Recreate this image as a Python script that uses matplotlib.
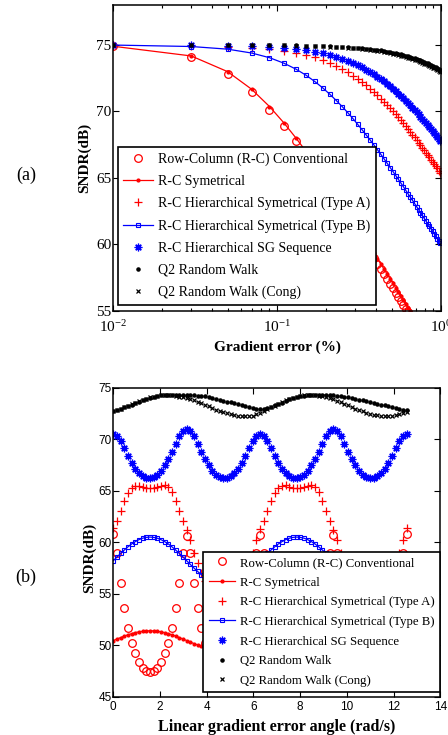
import numpy as np
import matplotlib
matplotlib.use('Agg')
import matplotlib.pyplot as plt

plt.rcParams['font.family'] = ['Liberation Serif', 'DejaVu Serif']

labels = ['Row-Column (R-C) Conventional', 'R-C Symetrical',
          'R-C Hierarchical Symetrical (Type A)', 'R-C Hierarchical Symetrical (Type B)',
          'R-C Hierarchical SG Sequence', 'Q2 Random Walk', 'Q2 Random Walk (Cong)']

# ---- panel (a): SNDR vs gradient error (%), x = 0.01 ... 0.99 step 0.02
grad_err = np.arange(0.01, 1.0, 0.02)

conv_a = [74.89, 74.10, 72.85, 71.47, 70.12, 68.88, 67.74, 66.70, 65.76, 64.90,
          64.10, 63.37, 62.70, 62.06, 61.47, 60.92, 60.39, 59.90, 59.43, 58.99,
          58.56, 58.16, 57.77, 57.40, 57.04, 56.70, 56.37, 56.05, 55.75, 55.45,
          55.17, 54.89, 54.62, 54.36, 54.11, 53.86, 53.62, 53.39, 53.16, 52.94,
          52.72, 52.51, 52.30, 52.10, 51.91, 51.72, 51.53, 51.35, 51.16, 50.99]
sym_a = [74.90, 74.17, 72.99, 71.67, 70.37, 69.15, 68.03, 67.01, 66.08, 65.23,
         64.45, 63.72, 63.04, 62.41, 61.83, 61.27, 60.75, 60.26, 59.79, 59.35,
         58.93, 58.52, 58.14, 57.76, 57.41, 57.07, 56.74, 56.42, 56.11, 55.82,
         55.53, 55.26, 54.99, 54.73, 54.47, 54.23, 53.99, 53.76, 53.53, 53.31,
         53.09, 52.88, 52.68, 52.47, 52.28, 52.09, 51.90, 51.71, 51.53, 51.36]
typea_a = [75.00, 74.93, 74.85, 74.75, 74.66, 74.55, 74.41, 74.25, 74.07, 73.86,
           73.65, 73.42, 73.19, 72.95, 72.70, 72.45, 72.20, 71.95, 71.70, 71.45,
           71.21, 70.96, 70.72, 70.48, 70.24, 70.00, 69.77, 69.55, 69.32, 69.10,
           68.88, 68.67, 68.46, 68.26, 68.05, 67.85, 67.66, 67.46, 67.28, 67.09,
           66.91, 66.73, 66.55, 66.38, 66.21, 66.04, 65.87, 65.71, 65.55, 65.39]
typeb_a = [74.99, 74.88, 74.68, 74.39, 74.04, 73.63, 73.19, 72.73, 72.25, 71.77,
           71.29, 70.82, 70.36, 69.91, 69.47, 69.04, 68.63, 68.23, 67.85, 67.48,
           67.12, 66.77, 66.43, 66.10, 65.78, 65.48, 65.18, 64.89, 64.61, 64.34,
           64.07, 63.81, 63.56, 63.32, 63.08, 62.85, 62.62, 62.40, 62.18, 61.97,
           61.76, 61.56, 61.36, 61.17, 60.98, 60.79, 60.61, 60.43, 60.26, 60.09]
sg_a = [75.00, 74.98, 74.95, 74.91, 74.85, 74.78, 74.69, 74.59, 74.48, 74.36,
        74.23, 74.10, 73.95, 73.80, 73.64, 73.48, 73.31, 73.14, 72.96, 72.79,
        72.61, 72.43, 72.25, 72.07, 71.88, 71.70, 71.52, 71.34, 71.16, 70.98,
        70.81, 70.63, 70.46, 70.28, 70.11, 69.95, 69.78, 69.61, 69.45, 69.29,
        69.13, 68.97, 68.81, 68.66, 68.51, 68.36, 68.21, 68.06, 67.91, 67.77]
q2_a = [75.00, 75.00, 74.99, 74.99, 74.98, 74.97, 74.96, 74.95, 74.93, 74.92,
        74.90, 74.88, 74.85, 74.83, 74.80, 74.78, 74.75, 74.72, 74.69, 74.65,
        74.62, 74.58, 74.54, 74.50, 74.46, 74.42, 74.38, 74.33, 74.29, 74.24,
        74.19, 74.14, 74.09, 74.04, 73.99, 73.94, 73.89, 73.83, 73.78, 73.72,
        73.67, 73.61, 73.55, 73.49, 73.43, 73.37, 73.31, 73.25, 73.19, 73.13]
cong_a = [75.00, 75.00, 74.99, 74.98, 74.97, 74.96, 74.95, 74.94, 74.92, 74.90,
          74.88, 74.86, 74.83, 74.80, 74.77, 74.74, 74.71, 74.68, 74.64, 74.60,
          74.56, 74.52, 74.48, 74.44, 74.39, 74.35, 74.30, 74.25, 74.20, 74.15,
          74.10, 74.05, 74.00, 73.94, 73.89, 73.83, 73.78, 73.72, 73.66, 73.60,
          73.54, 73.48, 73.42, 73.36, 73.30, 73.24, 73.18, 73.12, 73.06, 73.00]

# ---- panel (b): SNDR vs linear gradient error angle, 0 ... 4*pi
angle = np.linspace(0, 4 * np.pi, 81)

conv_b = [60.8, 59.0, 56.0, 53.6, 51.7, 50.2, 49.2, 48.4, 47.8, 47.5,
          47.4, 47.5, 47.8, 48.4, 49.2, 50.2, 51.7, 53.6, 56.0, 59.0,
          60.6, 59.0, 56.0, 53.6, 51.7, 50.2, 49.2, 48.4, 47.8, 47.5,
          47.4, 47.5, 47.8, 48.4, 49.2, 50.2, 51.7, 53.6, 56.0, 59.0,
          60.7, 59.0, 56.0, 53.6, 51.7, 50.2, 49.2, 48.4, 47.8, 47.5,
          47.4, 47.5, 47.8, 48.4, 49.2, 50.2, 51.7, 53.6, 56.0, 59.0,
          60.7, 59.0, 56.0, 53.6, 51.7, 50.2, 49.2, 48.4, 47.8, 47.5,
          47.4, 47.5, 47.8, 48.4, 49.2, 50.2, 51.7, 53.6, 56.0, 59.0,
          60.8]
sym_b = [50.45, 50.60, 50.74, 50.88, 51.01, 51.12, 51.22, 51.30, 51.35, 51.39,
         51.40, 51.39, 51.35, 51.30, 51.22, 51.12, 51.01, 50.88, 50.74, 50.60,
         50.45, 50.30, 50.16, 50.02, 49.89, 49.78, 49.68, 49.60, 49.55, 49.51,
         49.50, 49.51, 49.55, 49.60, 49.68, 49.78, 49.89, 50.02, 50.16, 50.30,
         50.45, 50.60, 50.74, 50.88, 51.01, 51.12, 51.22, 51.30, 51.35, 51.39,
         51.40, 51.39, 51.35, 51.30, 51.22, 51.12, 51.01, 50.88, 50.74, 50.60,
         50.45, 50.30, 50.16, 50.02, 49.89, 49.78, 49.68, 49.60, 49.55, 49.51,
         49.50, 49.51, 49.55, 49.60, 49.68, 49.78, 49.89, 50.02, 50.16, 50.30,
         50.45]
typea_b = [61.4, 62.1, 63.0, 64.0, 64.8, 65.3, 65.5, 65.5, 65.4, 65.3,
           65.3, 65.3, 65.4, 65.5, 65.6, 65.4, 64.9, 64.0, 63.0, 62.1,
           61.2, 60.2, 59.0, 58.0, 57.0, 56.2, 55.5, 55.0, 54.6, 54.4,
           54.3, 54.4, 54.6, 55.0, 55.5, 56.2, 57.0, 58.0, 59.0, 60.2,
           61.3, 62.1, 63.0, 64.0, 64.8, 65.3, 65.5, 65.6, 65.4, 65.3,
           65.3, 65.3, 65.4, 65.5, 65.6, 65.4, 64.9, 64.0, 63.0, 62.1,
           61.2, 60.2, 59.0, 58.0, 57.0, 56.2, 55.5, 55.0, 54.6, 54.4,
           54.3, 54.4, 54.6, 55.0, 55.5, 56.2, 57.0, 58.0, 59.0, 60.2,
           61.4]
typeb_b = [58.20, 58.56, 58.91, 59.24, 59.55, 59.83, 60.06, 60.25, 60.39, 60.47,
           60.50, 60.47, 60.39, 60.25, 60.06, 59.83, 59.55, 59.24, 58.91, 58.56,
           58.20, 57.84, 57.49, 57.16, 56.85, 56.57, 56.34, 56.15, 56.01, 55.93,
           55.90, 55.93, 56.01, 56.15, 56.34, 56.57, 56.85, 57.16, 57.49, 57.84,
           58.20, 58.56, 58.91, 59.24, 59.55, 59.83, 60.06, 60.25, 60.39, 60.47,
           60.50, 60.47, 60.39, 60.25, 60.06, 59.83, 59.55, 59.24, 58.91, 58.56,
           58.20, 57.84, 57.49, 57.16, 56.85, 56.57, 56.34, 56.15, 56.01, 55.93,
           55.90, 55.93, 56.01, 56.15, 56.34, 56.57, 56.85, 57.16, 57.49, 57.84,
           58.20]
sg_b = [70.50, 70.31, 69.80, 69.13, 68.40, 67.73, 67.15, 66.71, 66.40, 66.23,
        66.20, 66.31, 66.56, 66.93, 67.45, 68.09, 68.80, 69.57, 70.28, 70.81,
        71.00, 70.81, 70.28, 69.57, 68.80, 68.09, 67.45, 66.93, 66.56, 66.31,
        66.20, 66.23, 66.40, 66.71, 67.15, 67.73, 68.40, 69.13, 69.80, 70.31,
        70.55, 70.31, 69.80, 69.13, 68.40, 67.73, 67.15, 66.71, 66.40, 66.23,
        66.20, 66.31, 66.56, 66.93, 67.45, 68.09, 68.80, 69.57, 70.28, 70.81,
        71.00, 70.81, 70.28, 69.57, 68.80, 68.09, 67.45, 66.93, 66.56, 66.31,
        66.20, 66.23, 66.40, 66.71, 67.15, 67.73, 68.40, 69.13, 69.80, 70.31,
        70.50]
q2_b = [72.70, 72.82, 72.95, 73.08, 73.22, 73.36, 73.52, 73.66, 73.80, 73.92,
        74.03, 74.12, 74.20, 74.25, 74.28, 74.30, 74.31, 74.31, 74.30, 74.30,
        74.29, 74.27, 74.25, 74.22, 74.19, 74.15, 74.08, 74.00, 73.93, 73.84,
        73.75, 73.66, 73.57, 73.48, 73.39, 73.30, 73.20, 73.11, 73.02, 72.95,
        72.90, 72.92, 73.02, 73.15, 73.28, 73.42, 73.56, 73.72, 73.86, 73.98,
        74.08, 74.17, 74.23, 74.27, 74.30, 74.31, 74.31, 74.30, 74.29, 74.27,
        74.25, 74.22, 74.18, 74.13, 74.07, 74.00, 73.93, 73.85, 73.77, 73.69,
        73.61, 73.53, 73.45, 73.37, 73.28, 73.19, 73.10, 73.01, 72.93, 72.86,
        72.80]
cong_b = [72.70, 72.82, 72.95, 73.08, 73.23, 73.38, 73.53, 73.68, 73.82, 73.95,
          74.05, 74.13, 74.20, 74.25, 74.27, 74.27, 74.25, 74.20, 74.14, 74.07,
          73.98, 73.88, 73.76, 73.63, 73.48, 73.33, 73.18, 73.03, 72.88, 72.75,
          72.63, 72.52, 72.43, 72.35, 72.29, 72.25, 72.22, 72.24, 72.30, 72.40,
          72.55, 72.72, 72.90, 73.08, 73.27, 73.45, 73.62, 73.78, 73.92, 74.04,
          74.13, 74.20, 74.25, 74.28, 74.29, 74.27, 74.23, 74.17, 74.09, 73.99,
          73.87, 73.74, 73.59, 73.44, 73.28, 73.12, 72.97, 72.83, 72.70, 72.58,
          72.47, 72.38, 72.31, 72.26, 72.23, 72.22, 72.26, 72.33, 72.43, 72.55,
          72.68]

# marker styles in legend order (MATLAB look)
styles = [dict(marker='o', ls='none', mfc='none', mec='red', ms=5.5, mew=0.9),
          dict(marker='.', ls='-', color='red', ms=4, lw=0.9),
          dict(marker='+', ls='none', color='red', ms=6, mew=0.9),
          dict(marker='s', ls='-', color='blue', mfc='none', ms=3, lw=0.9, mew=0.8),
          dict(marker=(8, 2, 0), ls='none', color='blue', ms=5.5, mew=0.9),
          dict(marker='.', ls='none', color='black', ms=4.5),
          dict(marker='x', ls='none', color='black', ms=3, mew=0.9)]


def draw(ax, x, series):
    for y, st, lab in zip(series, styles, labels):
        ax.plot(x, y, label=lab, **st)


def frame(ax):
    for s in ax.spines.values():
        s.set_linewidth(1.1)
    ax.tick_params(which='both', direction='in', top=True, right=True, width=0.8)
    ax.tick_params(which='major', length=4)
    ax.tick_params(which='minor', length=2.5)


fig = plt.figure(figsize=(4.48, 7.35), dpi=100)

# (a)
ax1 = fig.add_axes([0.2522, 0.5769, 0.7321, 0.4163])
draw(ax1, grad_err, [conv_a, sym_a, typea_a, typeb_a, sg_a, q2_a, cong_a])
ax1.set_xscale('log')
ax1.set_xlim(0.01, 1)
ax1.set_ylim(55, 78)
ax1.set_yticks([55, 60, 65, 70, 75])
ax1.set_xticks([0.01, 0.1, 1])
ax1.set_xticklabels([r'$\mathregular{10^{-2}}$', r'$\mathregular{10^{-1}}$', r'$\mathregular{10^{0}}$'])
frame(ax1)
ax1.tick_params(axis='y', pad=1, labelsize=11)
ax1.tick_params(axis='x', pad=6, labelsize=11)
ax1.set_xlabel('Gradient error (%)', fontsize=11, fontweight='bold')
ax1.set_ylabel('SNDR(dB)', fontsize=11, fontweight='bold')
ax1.xaxis.set_label_coords(0.5, -0.095)
ax1.yaxis.set_label_coords(-0.065, 0.5)
leg1 = ax1.legend(loc='lower left', bbox_to_anchor=(0.015, 0.02), borderaxespad=0,
                  fontsize=10.0, numpoints=1, handlelength=2.1, handletextpad=0.4,
                  labelspacing=0.65, fancybox=False, framealpha=1, edgecolor='black',
                  borderpad=0.4)
leg1.get_frame().set_linewidth(1.2)

# (b)
ax2 = fig.add_axes([0.2529, 0.0521, 0.7297, 0.4204])
draw(ax2, angle, [conv_b, sym_b, typea_b, typeb_b, sg_b, q2_b, cong_b])
ax2.set_xlim(0, 14)
ax2.set_ylim(45, 75)
ax2.set_xticks(range(0, 15, 2))
ax2.set_yticks(range(45, 76, 5))
frame(ax2)
ax2.tick_params(axis='both', pad=3, labelsize=8.5)
for t in ax2.get_xticklabels() + ax2.get_yticklabels():
    t.set_family(['Liberation Sans', 'DejaVu Sans'])
ax2.tick_params(axis='y', pad=1)
ax2.set_xlabel('Linear gradient error angle (rad/s)', fontsize=11.5, fontweight='bold')
ax2.set_ylabel('SNDR(dB)', fontsize=11, fontweight='bold')
ax2.xaxis.set_label_coords(0.5, -0.072)
ax2.yaxis.set_label_coords(-0.053, 0.45)
leg2 = ax2.legend(loc='lower right', bbox_to_anchor=(1.0, 0.015), borderaxespad=0,
                  fontsize=9.2, numpoints=1, handlelength=2.1, handletextpad=0.4,
                  labelspacing=0.6, fancybox=False, framealpha=1, edgecolor='black',
                  borderpad=0.4)
leg2.get_frame().set_linewidth(1.2)

fig.text(0.058, 1 - 175 / 735, '(a)', fontsize=13, ha='center', va='center')
fig.text(0.058, 1 - 577 / 735, '(b)', fontsize=13, ha='center', va='center')

fig.savefig('out.png', dpi=100)
